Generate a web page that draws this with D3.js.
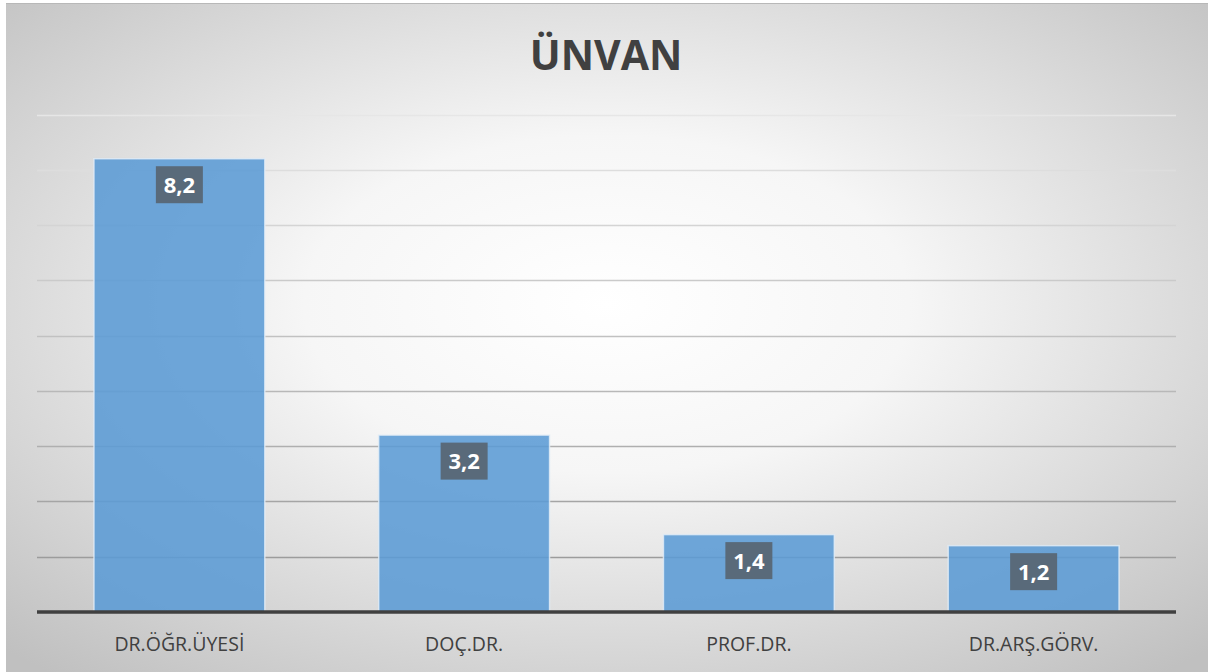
<!DOCTYPE html>
<html>
<head>
<meta charset="utf-8">
<script src="https://cdn.jsdelivr.net/npm/d3@7"></script>
<style>
  html, body { margin: 0; padding: 0; background: #fff; }
  svg { display: block; }
</style>
</head>
<body>
<svg id="chart" width="1208" height="672"></svg>
<script>
// data
const categories = ["DR.ÖĞR.ÜYESİ", "DOÇ.DR.", "PROF.DR.", "DR.ARŞ.GÖRV."];
const values = [8.2, 3.2, 1.4, 1.2];
const gridTicks = [0, 1, 2, 3, 4, 5, 6, 7, 8, 9];
const title = "ÜNVAN";

const W = 1208, H = 672;
const margin = {left: 37, right: 32, top: 114.5, bottom: 60};

const svg = d3.select("#chart");
const defs = svg.append("defs");

// radial background, white in the middle, grey at the corners
let bg = defs.append("radialGradient").attr("id", "bg")
    .attr("cx", "50%").attr("cy", "45%").attr("r", "72%");
bg.append("stop").attr("offset", "0%").attr("stop-color", "#ffffff");
bg.append("stop").attr("offset", "35%").attr("stop-color", "#f6f6f6");
bg.append("stop").attr("offset", "100%").attr("stop-color", "#c0c0c0");

svg.append("rect")
    .attr("x", 6).attr("y", 3)
    .attr("width", W - 6).attr("height", H - 3)
    .attr("fill", "url(#bg)");
svg.append("line")
    .attr("x1", 6).attr("x2", W).attr("y1", 3.5).attr("y2", 3.5)
    .attr("stroke", "#b8b8b8").attr("stroke-width", 1);

const x = d3.scaleBand()
    .domain(categories)
    .range([margin.left, W - margin.right])
    .paddingInner(0.4)
    .paddingOuter(0.2);

const y = d3.scaleLinear()
    .domain([0, 9])
    .range([H - margin.bottom, margin.top]);

// gridlines get darker towards the bottom
const gridColor = d3.scaleLinear()
    .domain([9, 1])
    .range(["#e6e6e6", "#9c9c9c"])
    .interpolate(d3.interpolateRgb);

svg.append("g")
    .selectAll("line")
    .data(gridTicks.filter(d => d > 0))
    .join("line")
    .attr("x1", margin.left).attr("x2", W - margin.right)
    .attr("y1", d => Math.round(y(d)) + 0.5)
    .attr("y2", d => Math.round(y(d)) + 0.5)
    .attr("stroke", d => gridColor(d))
    .attr("stroke-width", 1.3);

// bars
svg.append("g")
    .selectAll("rect")
    .data(values)
    .join("rect")
    .attr("x", (d, i) => x(categories[i]))
    .attr("y", d => y(d))
    .attr("width", x.bandwidth())
    .attr("height", d => y(0) - y(d))
    .attr("fill", "#5b9bd5")
    .attr("fill-opacity", 0.88)
    .attr("stroke", "#e4eef8")
    .attr("stroke-opacity", 0.8)
    .attr("stroke-width", 1.5);

// baseline
svg.append("line")
    .attr("x1", margin.left).attr("x2", W - margin.right)
    .attr("y1", y(0)).attr("y2", y(0))
    .attr("stroke", "#404040").attr("stroke-width", 3.5);

// value labels
const labels = svg.append("g")
    .selectAll("g")
    .data(values)
    .join("g")
    .attr("transform", (d, i) =>
        `translate(${x(categories[i]) + x.bandwidth() / 2},${y(d) + 26})`);

labels.append("rect")
    .attr("x", -23.5).attr("y", -18.5)
    .attr("width", 47).attr("height", 37)
    .attr("fill", "#596a7a");

labels.append("text")
    .attr("text-anchor", "middle")
    .attr("dy", "0.36em")
    .attr("fill", "#ffffff")
    .style("font-family", "'Open Sans', 'Noto Sans', sans-serif")
    .style("font-weight", "bold")
    .style("font-size", "22px")
    .text(d => String(d).replace(".", ","));

// category labels
svg.append("g")
    .selectAll("text")
    .data(categories)
    .join("text")
    .attr("x", d => x(d) + x.bandwidth() / 2)
    .attr("y", 651)
    .attr("text-anchor", "middle")
    .attr("fill", "#404040")
    .style("font-family", "'Open Sans', 'Noto Sans', sans-serif")
    .style("font-size", "19.5px")
    .text(d => d);

// title
svg.append("text")
    .attr("x", 606).attr("y", 70)
    .attr("text-anchor", "middle")
    .attr("fill", "#404040")
    .style("font-family", "'Open Sans', 'Noto Sans', sans-serif")
    .style("font-weight", "bold")
    .style("font-size", "41px")
    .text(title);
</script>
</body>
</html>
